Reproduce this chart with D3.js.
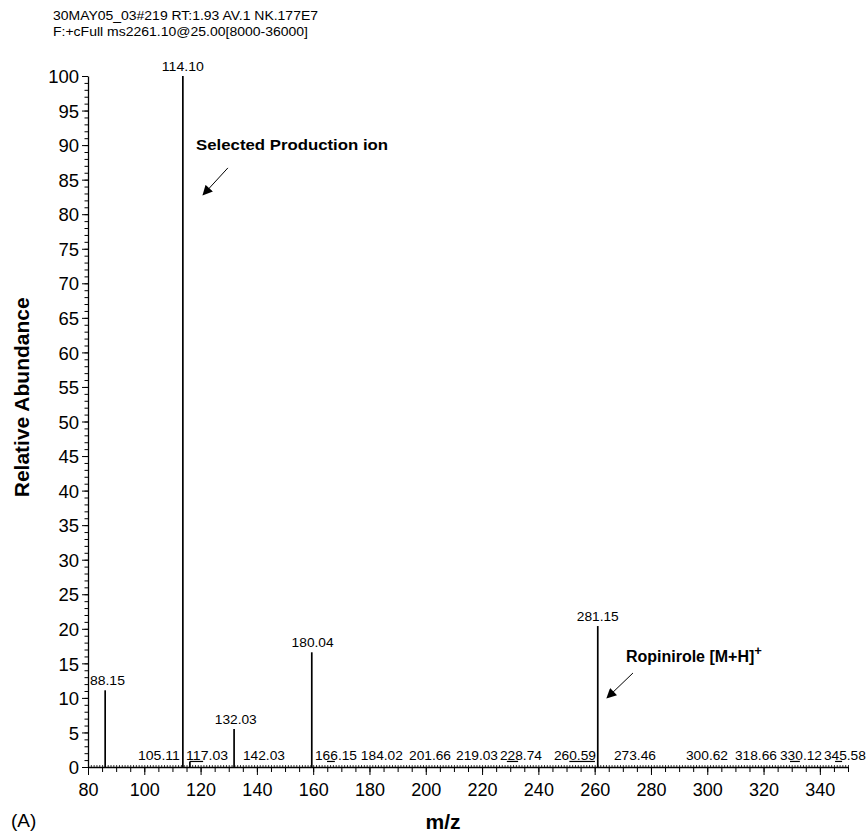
<!DOCTYPE html>
<html>
<head>
<meta charset="utf-8">
<style>
  body { margin: 0; background: #fff; }
  svg { font-family: "Liberation Sans", Arial, sans-serif; }
</style>
</head>
<body>
<svg width="868" height="832"></svg>
<script src="https://cdn.jsdelivr.net/npm/d3@7"></script>
<script>

// header lines of the scan
var header = ["30MAY05_03#219 RT:1.93 AV.1 NK.177E7", "F:+cFull ms2261.10@25.00[8000-36000]"];
var headerWidth = [265, 255];

// peaks: position on the drawn m/z axis, relative abundance, label text
var peakAt    = [86.1, 113.7, 116.2, 131.9, 159.5, 261.1];
var peakValue = [11.1, 100, 0.8, 5.5, 16.6, 20.4];
var peakLabel = ["88.15", "114.10", "", "132.03", "180.04", "281.15"];
var labelAt   = [86.9, 113.7, 116.2, 132.5, 159.8, 261.1];

// labels of the small noise peaks sitting on the baseline
var smallLabel = ["105.11", "117.03", "142.03", "166.15", "184.02", "201.66", "219.03",
                  "228.74", "260.59", "273.46", "300.62", "318.66", "330.12", "345.58"];
var smallAt    = [105.2, 122.3, 142.5, 168.1, 184.4, 201.5, 218.2,
                  233.8, 253.0, 274.3, 299.9, 317.3, 333.3, 348.9];

// short flat bars drawn just under some of those labels
var barFrom = [116.2, 164.9, 228.8, 251.0, 329.4, 345.4];
var barTo   = [120.9, 167.7, 232.8, 260.1, 332.9, 347.9];

var yTicks = d3.range(0, 101, 5);
var xTicks = d3.range(80, 341, 20);

var svg = d3.select("svg");

var x = d3.scaleLinear().domain([80, 350]).range([88, 848]);
var y = d3.scaleLinear().domain([0, 100]).range([767, 76]);

// the spectrum labels are drawn a little wider than the font
function labelWidth(s) { return s.length * 7; }

// header
svg.selectAll("text.hdr")
  .data(header)
  .enter().append("text")
    .attr("class", "hdr")
    .attr("x", 53)
    .attr("y", function(d, i) { return 20 + i * 16; })
    .attr("textLength", function(d, i) { return headerWidth[i]; })
    .attr("lengthAdjust", "spacingAndGlyphs")
    .style("font-size", "12.5px")
    .text(function(d) { return d; });

// y axis, minor then major ticks
svg.append("g")
    .attr("transform", "translate(" + x(80) + ",0)")
    .call(d3.axisLeft(y).tickValues(d3.range(0, 101, 1)).tickSize(3.5).tickFormat(""))
    .call(function(g) { g.select(".domain").remove(); });

var yAxis = svg.append("g")
    .attr("transform", "translate(" + x(80) + ",0)")
    .call(d3.axisLeft(y).tickValues(yTicks).tickSize(6).tickSizeOuter(0).tickPadding(3));
yAxis.selectAll("text").style("font-size", "18.5px").attr("dy", "0.36em");

// x axis: baseline specks, minor and major ticks
svg.append("g")
    .attr("transform", "translate(0," + y(0) + ")")
    .call(d3.axisBottom(x).tickValues(d3.range(80, 351, 1)).tickSize(-2).tickFormat(""))
    .call(function(g) { g.select(".domain").remove(); g.selectAll("line").attr("stroke-width", 0.8); });

svg.append("g")
    .attr("transform", "translate(0," + y(0) + ")")
    .call(d3.axisBottom(x).tickValues(d3.range(80, 351, 5)).tickSize(5).tickFormat(""))
    .call(function(g) { g.select(".domain").remove(); });

var xAxis = svg.append("g")
    .attr("transform", "translate(0," + y(0) + ")")
    .call(d3.axisBottom(x).tickValues(xTicks).tickSize(8).tickSizeOuter(0).tickPadding(8));
xAxis.selectAll("text").style("font-size", "18px");
svg.selectAll(".domain").attr("stroke-width", 1.3);

// peaks
svg.selectAll("line.peak")
  .data(peakAt)
  .enter().append("line")
    .attr("class", "peak")
    .attr("x1", function(d) { return x(d); })
    .attr("x2", function(d) { return x(d); })
    .attr("y1", y(0))
    .attr("y2", function(d, i) { return y(peakValue[i]); })
    .attr("stroke", "#000")
    .attr("stroke-width", 1.7);

svg.selectAll("text.plab")
  .data(peakLabel.filter(function(d) { return d; }))
  .enter().append("text")
    .attr("class", "plab")
    .attr("x", function(d) { var i = peakLabel.indexOf(d); return x(labelAt[i]) - labelWidth(d) / 2; })
    .attr("y", function(d) { return y(peakValue[peakLabel.indexOf(d)]) - 5; })
    .attr("textLength", labelWidth)
    .attr("lengthAdjust", "spacingAndGlyphs")
    .style("font-size", "13px")
    .text(function(d) { return d; });

svg.selectAll("text.slab")
  .data(smallLabel)
  .enter().append("text")
    .attr("class", "slab")
    .attr("x", function(d, i) { return x(smallAt[i]) - labelWidth(d) / 2; })
    .attr("y", y(1.0))
    .attr("textLength", labelWidth)
    .attr("lengthAdjust", "spacingAndGlyphs")
    .style("font-size", "13px")
    .text(function(d) { return d; });

svg.selectAll("line.bar")
  .data(barFrom)
  .enter().append("line")
    .attr("class", "bar")
    .attr("x1", function(d) { return x(d); })
    .attr("x2", function(d, i) { return x(barTo[i]); })
    .attr("y1", y(0.8))
    .attr("y2", y(0.8))
    .attr("stroke", "#000")
    .attr("stroke-width", 1.2);

// arrows
svg.append("defs").append("marker")
    .attr("id", "head")
    .attr("viewBox", "0 0 10 10")
    .attr("refX", 9).attr("refY", 5)
    .attr("markerWidth", 11).attr("markerHeight", 10)
    .attr("markerUnits", "userSpaceOnUse")
    .attr("orient", "auto")
  .append("path")
    .attr("d", "M0,0L10,5L0,10z")
    .attr("fill", "#000");

var arrows = [[129.7, 86.7, 120.9, 82.8], [273.6, 13.6, 264.4, 10.0]];
svg.selectAll("line.arrow")
  .data(arrows)
  .enter().append("line")
    .attr("class", "arrow")
    .attr("x1", function(d) { return x(d[0]); })
    .attr("y1", function(d) { return y(d[1]); })
    .attr("x2", function(d) { return x(d[2]); })
    .attr("y2", function(d) { return y(d[3]); })
    .attr("stroke", "#000")
    .attr("stroke-width", 1)
    .attr("marker-end", "url(#head)");

svg.append("text")
    .attr("x", x(118.4))
    .attr("y", y(89.3))
    .attr("textLength", 192)
    .attr("lengthAdjust", "spacingAndGlyphs")
    .style("font-size", "15px")
    .style("font-weight", "bold")
    .text("Selected Production ion");

var rop = svg.append("text")
    .attr("x", x(271.1))
    .attr("y", y(15.2))
    .style("font-size", "16px")
    .style("font-weight", "bold");
rop.append("tspan").text("Ropinirole [M+H]");
rop.append("tspan").attr("dy", -7).style("font-size", "13px").text("+");

// axis titles
svg.append("text")
    .attr("transform", "translate(29," + y(53.5) + ") rotate(-90)")
    .attr("text-anchor", "middle")
    .style("font-size", "21px")
    .style("font-weight", "bold")
    .text("Relative Abundance");

svg.append("text")
    .attr("x", 443)
    .attr("y", 829)
    .attr("text-anchor", "middle")
    .style("font-size", "21px")
    .style("font-weight", "bold")
    .text("m/z");

svg.append("text")
    .attr("x", 11)
    .attr("y", 827)
    .style("font-size", "19px")
    .text("(A)");

</script>
</body>
</html>
